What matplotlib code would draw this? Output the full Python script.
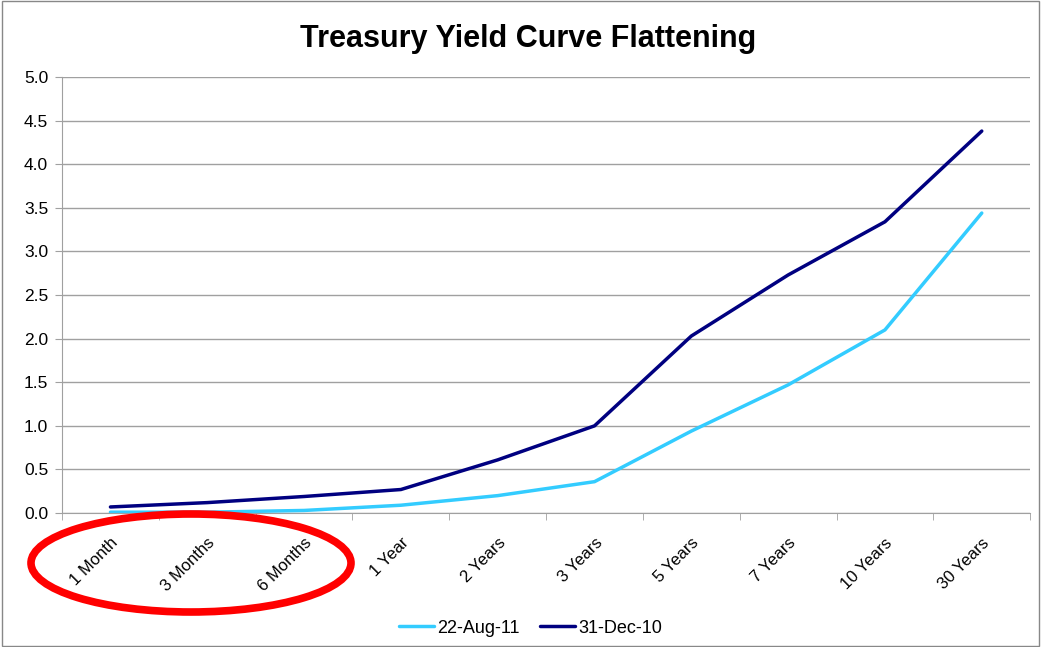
import numpy as np
import matplotlib.pyplot as plt
from matplotlib.patches import Ellipse, Rectangle

plt.rcParams['font.family'] = ['Liberation Sans', 'DejaVu Sans']

maturities = ['1 Month', '3 Months', '6 Months', '1 Year', '2 Years', '3 Years',
              '5 Years', '7 Years', '10 Years', '30 Years']
aug_22_11 = [0.01, 0.01, 0.03, 0.09, 0.20, 0.36, 0.94, 1.47, 2.10, 3.44]
dec_31_10 = [0.07, 0.12, 0.19, 0.27, 0.61, 1.00, 2.03, 2.73, 3.34, 4.38]
yticks = [0.0, 0.5, 1.0, 1.5, 2.0, 2.5, 3.0, 3.5, 4.0, 4.5, 5.0]

fig = plt.figure(figsize=(10.41, 6.47), dpi=100)
ax = fig.add_axes([0.0596, 0.207, 0.930, 0.674])

x = np.arange(len(maturities))
ax.plot(x, aug_22_11, color='#33CCFF', lw=2.5, label='22-Aug-11', solid_capstyle='round')
ax.plot(x, dec_31_10, color='#000080', lw=2.5, label='31-Dec-10', solid_capstyle='round')

ax.set_xlim(-0.5, len(maturities) - 0.5)
ax.set_ylim(0, 5)
ax.set_yticks(yticks)
ax.set_yticklabels([f'{v:.1f}' for v in yticks], fontsize=12.5)
ax.yaxis.grid(True, color='#A0A0A0', lw=1)
ax.set_axisbelow(True)

ax.set_xticks(x)
ax.set_xticklabels(maturities, rotation=45, ha='right', rotation_mode='anchor', fontsize=12)
ax.tick_params(axis='x', which='major', length=0, pad=16)
ax.set_xticks(np.arange(-0.5, len(maturities)), minor=True)
ax.tick_params(axis='x', which='minor', length=5, color='#A0A0A0')
ax.tick_params(axis='y', length=5, color='#A0A0A0', pad=5)

for s in ['top', 'right']:
    ax.spines[s].set_visible(False)
for s in ['left', 'bottom']:
    ax.spines[s].set_color('#A0A0A0')

fig.text(0.507, 0.94, 'Treasury Yield Curve Flattening', ha='center', va='center',
         fontsize=22, fontweight='bold')

ax.legend(loc='center', bbox_to_anchor=(0.484, -0.264), ncol=2, frameon=False,
          fontsize=13, handlelength=1.95, columnspacing=1.1, handletextpad=0.2)

# red circle drawn around the short maturities
fig.patches.append(Ellipse((191 / 1041, 1 - 563 / 647), 320 / 1041, 98 / 647,
                           transform=fig.transFigure, fill=False,
                           edgecolor='red', lw=5.5))
fig.patches.append(Rectangle((0.002, 0.002), 0.996, 0.996, transform=fig.transFigure,
                             fill=False, edgecolor='#888888', lw=1))

plt.savefig('out.png', dpi=100)
